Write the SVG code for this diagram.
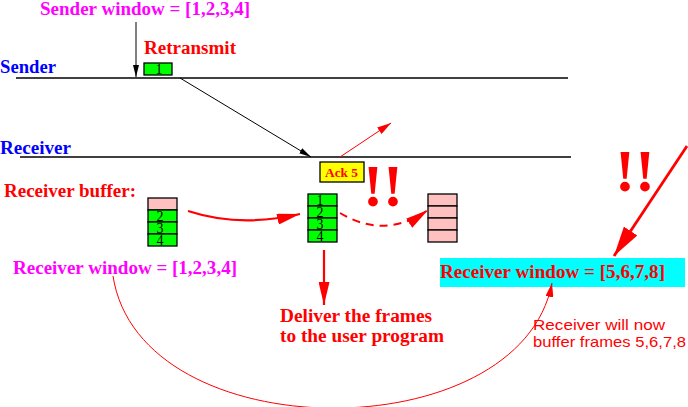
<svg xmlns="http://www.w3.org/2000/svg" width="688" height="407" viewBox="0 0 688 407">
<style>
.t{font-family:"Liberation Serif","Times New Roman",serif;font-weight:bold;}
.s{font-family:"Liberation Sans",Arial,sans-serif;}
.mag{fill:#ff00ff;font-size:18px;}
.red{fill:#ff0000;}
.blue{fill:#0000ff;font-size:18px;}
.cell{stroke:#000;stroke-width:1.3;}
.g{fill:#00ff00;}
.p{fill:#ffc0c0;}
.dig{font-family:"Liberation Serif","Times New Roman",serif;font-size:14px;fill:#000;text-anchor:middle;}
.bang{font-family:"Liberation Serif","Times New Roman",serif;font-weight:bold;font-size:60px;fill:#ff0000;}
.ln{stroke:#000;stroke-width:1.5;fill:none;}
</style>
<defs>
<marker id="ab" markerUnits="userSpaceOnUse" markerWidth="12" markerHeight="6" refX="12" refY="3" orient="auto" viewBox="0 0 12 6"><path d="M0,0 L12,3 L0,6 z" fill="#000"/></marker>
<marker id="ars" markerUnits="userSpaceOnUse" markerWidth="14" markerHeight="8" refX="14" refY="4" orient="auto" viewBox="0 0 14 8"><path d="M0,0 L14,4 L0,8 z" fill="#ff0000"/></marker>
<marker id="arm" markerUnits="userSpaceOnUse" markerWidth="23" markerHeight="11" refX="23" refY="5.5" orient="auto" viewBox="0 0 23 11"><path d="M0,0 L23,5.5 L0,11 z" fill="#ff0000"/></marker>
<marker id="arl" markerUnits="userSpaceOnUse" markerWidth="30" markerHeight="16" refX="30" refY="8" orient="auto" viewBox="0 0 30 16"><path d="M0,0 L30,8 L0,16 z" fill="#ff0000"/></marker>
</defs>

<g id="timelines">
<line class="ln" x1="16" y1="78" x2="568" y2="78"/>
<line class="ln" x1="20" y1="157" x2="571" y2="157"/>
</g>

<g id="labels">
<text class="t mag" x="40" y="15" textLength="210" lengthAdjust="spacingAndGlyphs">Sender window = [1,2,3,4]</text>
<text class="t blue" x="0" y="73" textLength="56" lengthAdjust="spacingAndGlyphs">Sender</text>
<text class="t blue" x="0" y="154" textLength="71" lengthAdjust="spacingAndGlyphs">Receiver</text>
<text class="t red" x="144" y="54" font-size="18" textLength="92" lengthAdjust="spacingAndGlyphs">Retransmit</text>
<text class="t red" x="4" y="197" font-size="18" textLength="132" lengthAdjust="spacingAndGlyphs">Receiver buffer:</text>
<text class="t mag" x="13" y="274" textLength="224" lengthAdjust="spacingAndGlyphs">Receiver window = [1,2,3,4]</text>
<text class="t red" x="280" y="322" font-size="18" textLength="152" lengthAdjust="spacingAndGlyphs">Deliver the frames</text>
<text class="t red" x="280" y="342" font-size="18" textLength="164" lengthAdjust="spacingAndGlyphs">to the user program</text>
<text class="s red" x="533" y="330" font-size="15" textLength="132" lengthAdjust="spacingAndGlyphs">Receiver will now</text>
<text class="s red" x="533" y="347" font-size="15" textLength="153" lengthAdjust="spacingAndGlyphs">buffer frames 5,6,7,8</text>
<text class="bang" x="363" y="206">!!</text>
<text class="bang" x="615" y="191">!!</text>
</g>

<g id="frame1">
<rect class="cell g" x="144" y="63" width="28" height="12"/>
<text class="dig" x="159" y="74">1</text>
</g>

<g id="ack5">
<rect x="320" y="162" width="44" height="20" fill="#ffff00" stroke="#000" stroke-width="1.3"/>
<text class="t red" x="325" y="177" font-size="13" textLength="33" lengthAdjust="spacingAndGlyphs">Ack 5</text>
</g>

<g id="buffer-left">
<rect class="cell p" x="148" y="198" width="29" height="12"/>
<rect class="cell g" x="148" y="210" width="29" height="12"/>
<rect class="cell g" x="148" y="222" width="29" height="12"/>
<rect class="cell g" x="148" y="234" width="29" height="12"/>
<text class="dig" x="160" y="221">2</text>
<text class="dig" x="160" y="233">3</text>
<text class="dig" x="160" y="245">4</text>
</g>

<g id="buffer-middle">
<rect class="cell g" x="308" y="194" width="29" height="12"/>
<rect class="cell g" x="308" y="206" width="29" height="12"/>
<rect class="cell g" x="308" y="218" width="29" height="12"/>
<rect class="cell g" x="308" y="230" width="29" height="12"/>
<text class="dig" x="320" y="205">1</text>
<text class="dig" x="320" y="217">2</text>
<text class="dig" x="320" y="229">3</text>
<text class="dig" x="320" y="241">4</text>
</g>

<g id="buffer-right">
<rect class="cell p" x="428" y="194" width="29" height="12"/>
<rect class="cell p" x="428" y="206" width="29" height="12"/>
<rect class="cell p" x="428" y="218" width="29" height="12"/>
<rect class="cell p" x="428" y="230" width="29" height="12"/>
</g>

<g id="receiver-window-new">
<rect x="440" y="258" width="245" height="29" fill="#00ffff"/>
<text class="t red" x="440" y="278" font-size="18" textLength="225" lengthAdjust="spacingAndGlyphs">Receiver window = [5,6,7,8]</text>
</g>

<g id="connectors" fill="none">
<line x1="136" y1="22" x2="136" y2="77" stroke="#000" stroke-width="1" marker-end="url(#ab)"/>
<line x1="180" y1="78" x2="311" y2="157" stroke="#000" stroke-width="1" marker-end="url(#ab)"/>
<line x1="340" y1="157" x2="391" y2="123" stroke="#ff0000" stroke-width="1" marker-end="url(#ars)"/>
<path d="M188,211 Q240,228 300,214" stroke="#ff0000" stroke-width="2.2" marker-end="url(#arm)"/>
<path d="M340,213 Q385,240 428,210" stroke="#ff0000" stroke-width="2" stroke-dasharray="8,6" marker-end="url(#arm)"/>
<line x1="324" y1="250" x2="324" y2="305" stroke="#ff0000" stroke-width="2.2" marker-end="url(#arm)"/>
<line x1="687" y1="146" x2="614" y2="256" stroke="#ff0000" stroke-width="2.8" marker-end="url(#arl)"/>
<path d="M113,276 C140,451 520,451 552,283" stroke="#ff0000" stroke-width="1" marker-end="url(#ars)"/>
</g>
</svg>
